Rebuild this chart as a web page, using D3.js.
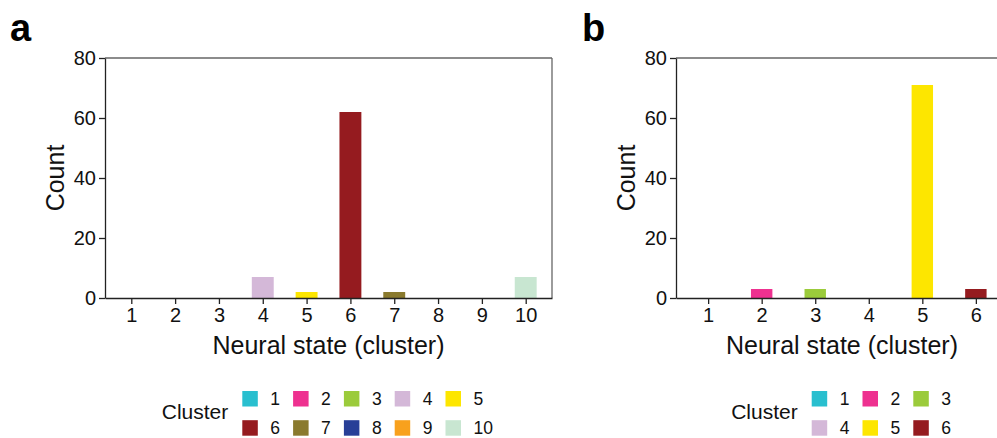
<!DOCTYPE html>
<html>
<head>
<meta charset="utf-8">
<script src="https://cdn.jsdelivr.net/npm/d3@7"></script>
<style>
  body { margin: 0; background: #fff; }
  svg { display: block; font-family: "Liberation Sans", Arial, Helvetica, sans-serif; }
  .axis path, .axis line { stroke: #222; stroke-width: 1.3; }
  .axis text { font-size: 20px; fill: #111; font-family: "Liberation Sans", Arial, sans-serif; }
</style>
</head>
<body>
<svg id="chart" width="997" height="438"></svg>
<script>
// data
var clustersA = [1, 2, 3, 4, 5, 6, 7, 8, 9, 10];
var countsA = [0, 0, 0, 7, 2, 62, 2, 0, 0, 7];
var clustersB = [1, 2, 3, 4, 5, 6];
var countsB = [0, 3, 3, 0, 71, 3];
var yTicks = [0, 20, 40, 60, 80];
var clusterColors = ["#29bfcf", "#ee3190", "#9bcb3b", "#d4b8d8", "#fde600",
                     "#951b1f", "#8a7a2e", "#283f97", "#f8a11d", "#c8e6d1"];

var svg = d3.select("#chart");

function drawPanel(p) {
  var x = d3.scaleLinear().domain([0.4, p.clusters.length + 0.6]).range([p.left, p.right]);
  var y = d3.scaleLinear().domain([0, 80]).range([298, 58]);
  var g = svg.append("g");

  // bars
  g.selectAll("rect.bar")
    .data(p.counts)
    .enter().append("rect")
      .attr("class", "bar")
      .attr("x", function(d, i) { return x(p.clusters[i] - p.barW / 2); })
      .attr("width", x(1 + p.barW) - x(1))
      .attr("y", function(d) { return y(d); })
      .attr("height", function(d) { return y(0) - y(d); })
      .attr("fill", function(d, i) { return clusterColors[i]; });

  // top + right frame
  g.append("line")
    .attr("x1", x.range()[0]).attr("x2", x.range()[1])
    .attr("y1", y(80)).attr("y2", y(80))
    .attr("stroke", "#666").attr("stroke-width", 1.3);
  g.append("line")
    .attr("x1", x.range()[1]).attr("x2", x.range()[1])
    .attr("y1", y(80)).attr("y2", y(0))
    .attr("stroke", "#666").attr("stroke-width", 1.3);

  g.append("g")
    .attr("class", "axis")
    .attr("transform", "translate(0," + y(0) + ")")
    .call(d3.axisBottom(x).tickValues(p.clusters).tickFormat(d3.format("d"))
      .tickSize(6).tickSizeOuter(0).tickPadding(4));

  g.append("g")
    .attr("class", "axis")
    .attr("transform", "translate(" + x.range()[0] + ",0)")
    .call(d3.axisLeft(y).tickValues(yTicks).tickFormat(d3.format("d"))
      .tickSize(6).tickSizeOuter(0).tickPadding(3));

  // axis titles
  g.append("text")
    .attr("x", (x.range()[0] + x.range()[1]) / 2)
    .attr("y", 354)
    .attr("text-anchor", "middle")
    .attr("font-size", 25)
    .attr("fill", "#111")
    .text("Neural state (cluster)");

  g.append("text")
    .attr("transform", "translate(" + (x.range()[0] - 41) + "," + ((y(0) + y(80)) / 2) + ") rotate(-90)")
    .attr("text-anchor", "middle")
    .attr("font-size", 25)
    .attr("fill", "#111")
    .text("Count");

  // panel letter
  g.append("text")
    .attr("x", p.letterX)
    .attr("y", 41)
    .attr("font-size", 38)
    .attr("font-weight", "bold")
    .attr("fill", "#000")
    .text(p.letter);

  // legend
  var lg = g.append("g");
  lg.append("text")
    .attr("x", p.legendX - 14)
    .attr("y", 419)
    .attr("text-anchor", "end")
    .attr("font-size", 21)
    .attr("fill", "#111")
    .text("Cluster");

  var item = lg.selectAll("g.item")
    .data(p.clusters)
    .enter().append("g")
      .attr("class", "item")
      .attr("transform", function(d, i) {
        var col = i % p.perRow, row = Math.floor(i / p.perRow);
        return "translate(" + (p.legendX + col * 50.8) + "," + (391 + row * 29.2) + ")";
      });

  item.append("rect")
    .attr("width", 15.5)
    .attr("height", 15.5)
    .attr("fill", function(d, i) { return clusterColors[i]; });

  item.append("text")
    .attr("x", 28)
    .attr("y", 7.8)
    .attr("dy", "0.35em")
    .attr("font-size", 17.5)
    .attr("fill", "#111")
    .text(function(d) { return d; });
}

drawPanel({ letter: "a", letterX: 10, clusters: clustersA, counts: countsA,
            left: 105, right: 552, barW: 0.5, legendX: 242.3, perRow: 5 });
drawPanel({ letter: "b", letterX: 582, clusters: clustersB, counts: countsB,
            left: 676, right: 1008, barW: 0.4, legendX: 811.7, perRow: 3 });
</script>
</body>
</html>
